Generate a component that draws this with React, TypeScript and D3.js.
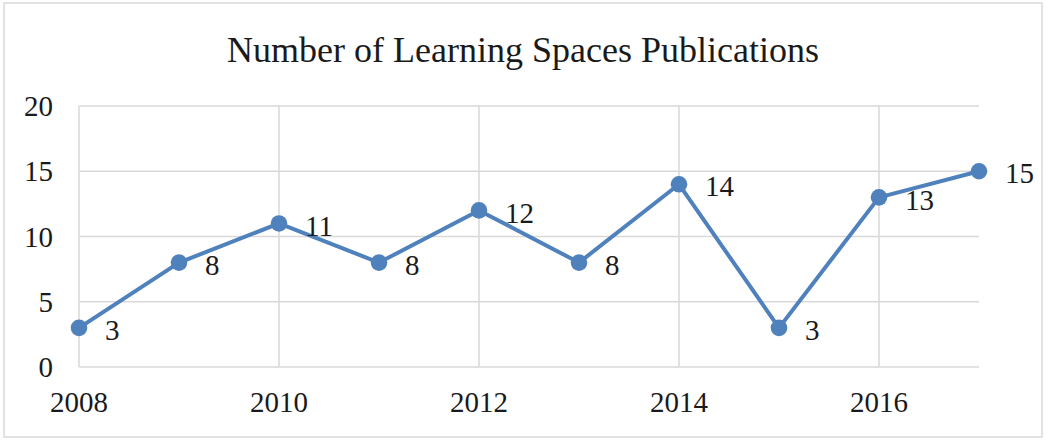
import React from 'react'
import * as d3 from 'd3'

const years = [2008, 2009, 2010, 2011, 2012, 2013, 2014, 2015, 2016, 2017]
const publications = [3, 8, 11, 8, 12, 8, 14, 3, 13, 15]
const xTicks = [2008, 2010, 2012, 2014, 2016]
const yTicks = [0, 5, 10, 15, 20]
const title = 'Number of Learning Spaces Publications'

const W = 1047
const H = 441
const FONT = "'Liberation Serif', Tinos, 'Times New Roman', Times, 'DejaVu Serif', serif"
const BLUE = '#4f81bd'
const GRID = '#d9d9d9'
const INK = '#1a1a1a'

const App: React.FC = () => {
  const x = d3.scaleLinear().domain([2008, 2017]).range([79, 979])
  const y = d3.scaleLinear().domain([0, 20]).range([367, 106])

  const line = d3.line<number>()
    .x((d, i) => x(years[i]))
    .y(d => y(d))

  const txt = { fontFamily: FONT }

  return (
    <svg width={W} height={H} style={{ position: 'absolute', left: 0, top: 0, background: '#fff' }}>
      {/* chart border */}
      <rect x={4} y={3} width={1038} height={434} fill="#fff" stroke={GRID} strokeWidth={1.5} />

      <text x={523} y={62} textAnchor="middle" style={txt} fontSize={36} fill={INK}>
        {title}
      </text>

      {/* grid */}
      {yTicks.map(t => (
        <line key={'h' + t} x1={x(2008)} x2={x(2017)} y1={y(t)} y2={y(t)} stroke={GRID} strokeWidth={1.5} />
      ))}
      {xTicks.map(t => (
        <line key={'v' + t} x1={x(t)} x2={x(t)} y1={y(20)} y2={y(0)} stroke={GRID} strokeWidth={1.5} />
      ))}

      {/* axis labels */}
      {yTicks.map(t => (
        <text key={'yl' + t} x={53} y={y(t)} dy="0.35em" textAnchor="end" style={txt} fontSize={29} fill={INK}>
          {t}
        </text>
      ))}
      {xTicks.map(t => (
        <text key={'xl' + t} x={x(t)} y={412} textAnchor="middle" style={txt} fontSize={29} fill={INK}>
          {t}
        </text>
      ))}

      {/* series */}
      <path d={line(publications) || ''} fill="none" stroke={BLUE} strokeWidth={4} strokeLinejoin="round" />
      {publications.map((v, i) => (
        <circle key={'p' + i} cx={x(years[i])} cy={y(v)} r={8.3} fill={BLUE} />
      ))}
      {publications.map((v, i) => (
        <text key={'dl' + i} x={x(years[i]) + 26} y={y(v) + 2} dy="0.35em" style={txt} fontSize={29} fill={INK}>
          {v}
        </text>
      ))}
    </svg>
  )
}

export default App
